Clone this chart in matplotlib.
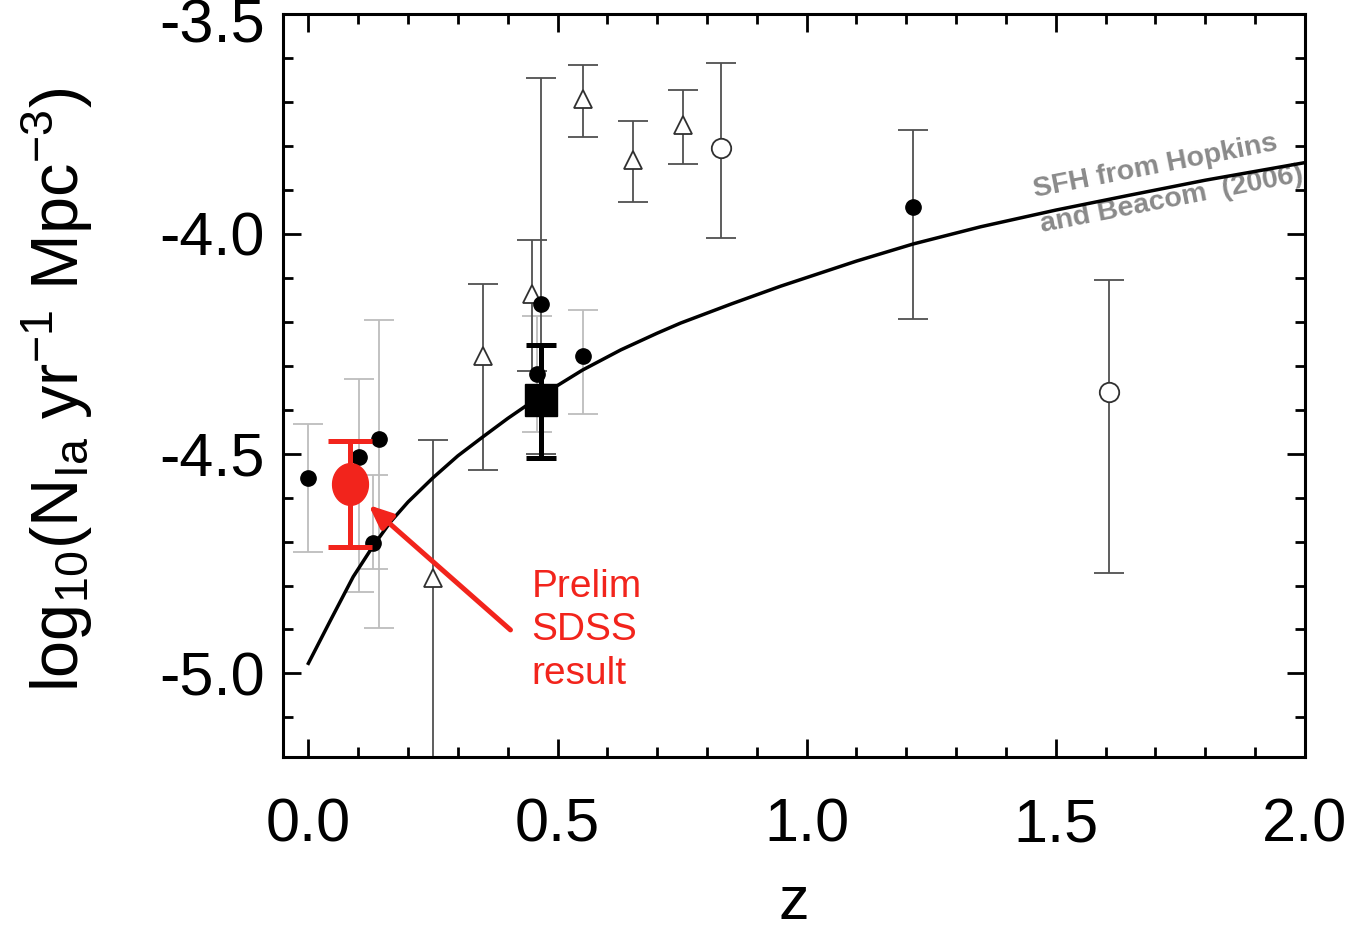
import matplotlib
matplotlib.use("Agg")
import matplotlib.pyplot as plt
import matplotlib.transforms as mtransforms
import numpy as np
from matplotlib.path import Path
from matplotlib.ticker import MultipleLocator

plt.rcParams['font.family'] = ['Liberation Sans', 'DejaVu Sans']
plt.rcParams['mathtext.fontset'] = 'custom'
plt.rcParams['mathtext.rm'] = 'Liberation Sans'
plt.rcParams['mathtext.it'] = 'Liberation Sans:italic'

# ---- data ----
# SN Ia rate model from SFH (Hopkins & Beacom 2006)
curve_z = [0.0, 0.044, 0.09, 0.13, 0.165, 0.2, 0.25, 0.3, 0.35, 0.4, 0.45, 0.5,
           0.55, 0.627, 0.7, 0.747, 0.85, 0.948, 1.1, 1.214, 1.349, 1.5, 1.644,
           1.8, 2.0]
curve_y = [-4.977, -4.88, -4.78, -4.71, -4.655, -4.61, -4.555, -4.505, -4.462,
           -4.42, -4.381, -4.345, -4.31, -4.264, -4.226, -4.203, -4.159, -4.119,
           -4.062, -4.023, -3.984, -3.946, -3.913, -3.878, -3.838]

# filled circles with light-grey error bars
fc_light_z = [0.0, 0.101, 0.141, 0.130, 0.459, 0.5515]
fc_light_y = [-4.556, -4.507, -4.467, -4.704, -4.318, -4.279]
fc_light_lo = [-4.723, -4.814, -4.897, -4.763, -4.45, -4.410]
fc_light_hi = [-4.433, -4.330, -4.197, -4.549, -4.188, -4.174]

# filled circles with dark error bars
fc_dark_z = [0.4665, 1.2135]
fc_dark_y = [-4.159, -3.9385]
fc_dark_lo = [-4.50, -4.194]
fc_dark_hi = [-3.645, -3.763]

# open triangles
tri_z = [0.250, 0.351, 0.448, 0.551, 0.651, 0.752]
tri_y = [-4.784, -4.279, -4.138, -3.694, -3.831, -3.753]
tri_lo = [-5.40, -4.537, -4.311, -3.779, -3.928, -3.841]
tri_hi = [-4.470, -4.113, -4.013, -3.616, -3.744, -3.672]

# open circles
oc_z = [0.829, 1.606]
oc_y = [-3.804, -4.359]
oc_lo = [-4.009, -4.771]
oc_hi = [-3.611, -4.104]

# black square
sq_z = [0.4665]
sq_y = [-4.377]
sq_lo = [-4.510]
sq_hi = [-4.252]

# preliminary SDSS result
sdss_z = [0.083]
sdss_y = [-4.569]
sdss_lo = [-4.712]
sdss_hi = [-4.472]

x_ticks = [0.0, 0.5, 1.0, 1.5, 2.0]
x_ticklabels = ['0.0', '0.5', '1.0', '1.5', '2.0']
y_ticks = [-5.0, -4.5, -4.0, -3.5]
y_ticklabels = ['-5.0', '-4.5', '-4.0', '-3.5']


def yerr(y, lo, hi):
    y = np.asarray(y)
    return [y - np.asarray(lo), np.asarray(hi) - y]


fig = plt.figure(figsize=(13.63, 9.35), dpi=100)
ax = fig.add_axes([0.2076, 0.1904, 0.7498, 0.7946])

LIGHT = '#bdbdbd'
DARK = '#505050'

ax.errorbar(fc_light_z, fc_light_y, yerr=yerr(fc_light_y, fc_light_lo, fc_light_hi),
            fmt='none', ecolor=LIGHT, elinewidth=1.3, capsize=11, capthick=1.3, zorder=1)
ax.errorbar(tri_z, tri_y, yerr=yerr(tri_y, tri_lo, tri_hi),
            fmt='none', ecolor=DARK, elinewidth=1.3, capsize=11, capthick=1.3, zorder=2)
ax.errorbar(oc_z, oc_y, yerr=yerr(oc_y, oc_lo, oc_hi),
            fmt='none', ecolor=DARK, elinewidth=1.3, capsize=11, capthick=1.3, zorder=2)
ax.errorbar(fc_dark_z, fc_dark_y, yerr=yerr(fc_dark_y, fc_dark_lo, fc_dark_hi),
            fmt='none', ecolor=DARK, elinewidth=1.3, capsize=11, capthick=1.3, zorder=2)

ax.plot(curve_z, curve_y, color='black', lw=2.5, zorder=3, solid_joinstyle='round')

ax.plot(tri_z, tri_y, linestyle='none', marker='^', ms=13, mfc='white',
        mec='#303030', mew=1.3, zorder=4)
ax.plot(oc_z, oc_y, linestyle='none', marker='o', ms=14, mfc='white',
        mec='#303030', mew=1.3, zorder=4)
ax.plot(fc_light_z + fc_dark_z, fc_light_y + fc_dark_y, linestyle='none',
        marker='o', ms=11, mfc='black', mec='black', zorder=5)

ax.errorbar(sq_z, sq_y, yerr=yerr(sq_y, sq_lo, sq_hi), fmt='none', ecolor='black',
            elinewidth=3.6, capsize=11, capthick=3.6, zorder=6)
ax.plot(sq_z, sq_y, linestyle='none', marker='s', ms=23, mfc='black', mec='black', zorder=7)

RED = '#f2241c'
ax.errorbar(sdss_z, sdss_y, yerr=yerr(sdss_y, sdss_lo, sdss_hi), fmt='none', ecolor=RED,
            elinewidth=3.6, capsize=16, capthick=3.6, zorder=8)
t = np.linspace(0, 2 * np.pi, 60)
ell = Path(np.column_stack([0.86 * np.cos(t), np.sin(t)]))
ax.plot(sdss_z, sdss_y, linestyle='none', marker=ell, ms=30, mfc=RED, mec=RED, zorder=9)

ax.annotate('', xy=(0.121, -4.617), xytext=(0.4056, -4.901),
            arrowprops=dict(arrowstyle='-|>,head_length=1.4,head_width=0.6',
                            color=RED, lw=3.6, shrinkA=0, shrinkB=0), zorder=9)
ax.text(0.448, -4.762, 'Prelim\nSDSS\nresult', color=RED, fontsize=28,
        ha='left', va='top', linespacing=1.27, zorder=9)

ax.text(1.462, -3.94, 'SFH from Hopkins\nand Beacom  (2006)', color='#8a8a8a',
        fontsize=20.5, fontweight='bold', multialignment='left',
        rotation=11, rotation_mode='anchor', ha='left', va='center',
        linespacing=1.5, clip_on=True, zorder=2)

ax.set_xlim(-0.051, 2.0)
ax.set_ylim(-5.19, -3.5)
ax.xaxis.set_minor_locator(MultipleLocator(0.1))
ax.yaxis.set_minor_locator(MultipleLocator(0.1))
ax.set_xticks(x_ticks)
ax.set_xticklabels(x_ticklabels)
ax.set_yticks(y_ticks)
ax.set_yticklabels(y_ticklabels)
ax.tick_params(which='both', direction='in', top=True, right=True, width=2.0)
ax.tick_params(which='major', length=13, labelsize=44)
ax.tick_params(which='minor', length=7)
ax.tick_params(axis='x', pad=29)
ax.tick_params(axis='y', pad=13)
for s in ax.spines.values():
    s.set_linewidth(2.2)

# top label sits a little lower than its tick in the reference
top_lab = ax.get_yticklabels()[-1]
top_lab.set_transform(top_lab.get_transform() +
                      mtransforms.ScaledTranslation(0, -6 / 100, fig.dpi_scale_trans))

ax.set_xlabel('z', fontsize=44, labelpad=15)
ax.set_ylabel(r'log$_{10}$(N$_{\mathrm{Ia}}$ yr$^{-1}$ Mpc$^{-3}$)', fontsize=48)
ax.yaxis.set_label_coords(-0.184, 0.494)

fig.savefig('out.png', dpi=100)
